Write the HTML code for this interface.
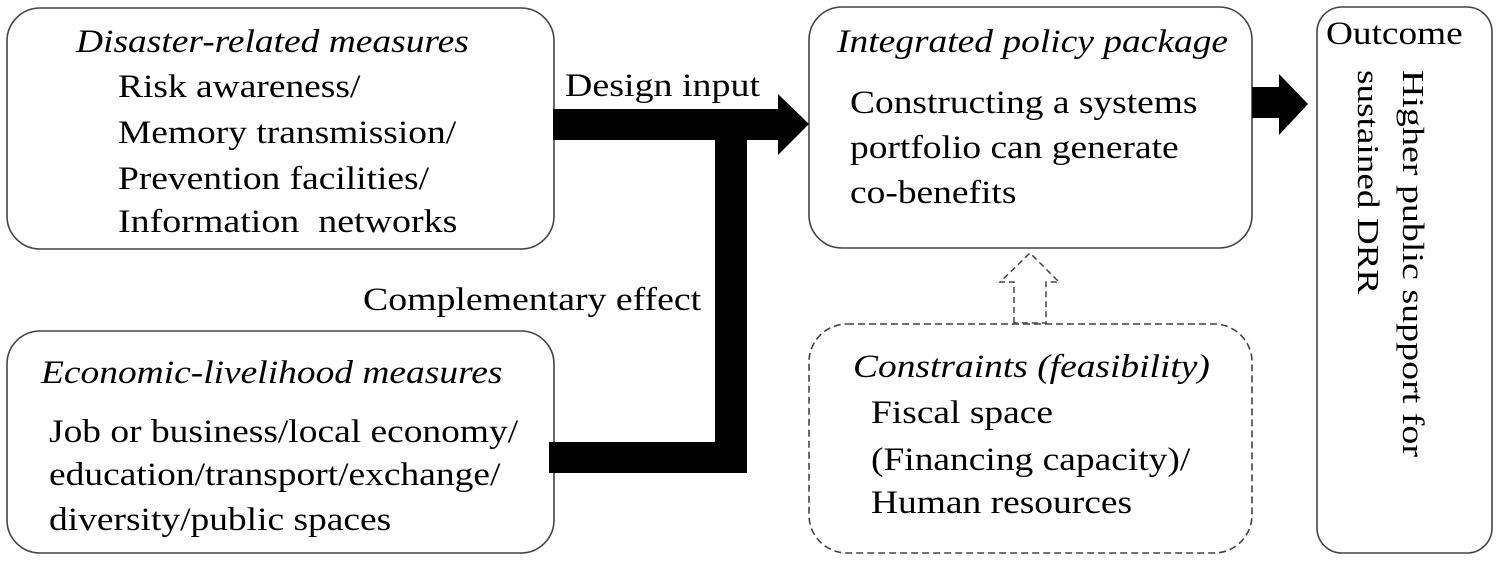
<!DOCTYPE html>
<html>
<head>
<meta charset="utf-8">
<style>
  html,body{margin:0;padding:0;background:#fff;}
  body{width:1499px;height:562px;position:relative;overflow:hidden;}
  svg{display:block;position:absolute;left:0;top:0;}
  .t{position:absolute;font-family:"Liberation Serif","Times New Roman",serif;font-size:33px;line-height:33px;white-space:pre;color:#000;transform-origin:0 0;transform:scaleX(1.135);margin:0;padding:0;}
  .i{font-style:italic;}
  .v{position:absolute;left:0;top:0;font-family:"Liberation Serif","Times New Roman",serif;font-size:31px;line-height:31px;white-space:pre;color:#000;transform-origin:0 0;}
</style>
</head>
<body>
<svg width="1499" height="562" viewBox="0 0 1499 562" xmlns="http://www.w3.org/2000/svg">
  <rect x="0" y="0" width="1499" height="562" fill="#fff"/>
  <rect x="7" y="8" width="547" height="241" rx="33" ry="33" fill="none" stroke="#444" stroke-width="1.6"/>
  <rect x="7" y="331" width="547" height="222" rx="33" ry="33" fill="none" stroke="#444" stroke-width="1.6"/>
  <rect x="809" y="7" width="443" height="241" rx="33" ry="33" fill="none" stroke="#444" stroke-width="1.6"/>
  <rect x="809" y="324" width="443" height="229" rx="38" ry="38" fill="none" stroke="#444" stroke-width="1.6" stroke-dasharray="7 4"/>
  <rect x="1317" y="7" width="175" height="546" rx="25" ry="25" fill="none" stroke="#444" stroke-width="1.6"/>
  <polygon points="553,109 778,109 778,94 809,124 778,155 778,140 747,140 747,473 549,473 549,442 715,442 715,140 553,140" fill="#000"/>
  <polygon points="1252,87 1279,87 1279,74 1308,104 1279,135 1279,118 1252,118" fill="#000"/>
  <polygon points="1014,323 1014,282 1000,282 1030,253 1059,282 1046,282 1046,323" fill="#fff" stroke="#444" stroke-width="1.5" stroke-dasharray="6 4"/>
</svg>

<!-- Box 1 -->
<div class="t i" style="left:76px;top:26.4px;">Disaster-related measures</div>
<div class="t" style="left:118px;top:71.4px;">Risk awareness/</div>
<div class="t" style="left:118px;top:117.4px;">Memory transmission/</div>
<div class="t" style="left:118px;top:163.4px;">Prevention facilities/</div>
<div class="t" style="left:118px;top:206.4px;transform:scaleX(1.15);">Information  networks</div>

<!-- Connector labels -->
<div class="t" style="left:565px;top:70.4px;transform:scaleX(1.15);">Design input</div>
<div class="t" style="left:363px;top:284.4px;transform:scaleX(1.145);">Complementary effect</div>

<!-- Box 2 -->
<div class="t i" style="left:41px;top:357.4px;">Economic-livelihood measures</div>
<div class="t" style="left:49px;top:416.4px;">Job or business/local economy/</div>
<div class="t" style="left:49px;top:459.4px;">education/transport/exchange/</div>
<div class="t" style="left:49px;top:504.4px;">diversity/public spaces</div>

<!-- Integrated -->
<div class="t i" style="left:837px;top:26.4px;">Integrated policy package</div>
<div class="t" style="left:850px;top:87.4px;">Constructing a systems</div>
<div class="t" style="left:850px;top:132.4px;">portfolio can generate</div>
<div class="t" style="left:850px;top:177.4px;">co-benefits</div>

<!-- Constraints -->
<div class="t i" style="left:853px;top:351.4px;">Constraints (feasibility)</div>
<div class="t" style="left:871px;top:397.4px;">Fiscal space</div>
<div class="t" style="left:871px;top:444.4px;">(Financing capacity)/</div>
<div class="t" style="left:871px;top:487.4px;">Human resources</div>

<!-- Outcome -->
<div class="t" style="left:1326px;top:18.4px;transform:scaleX(1.13);">Outcome</div>
<div class="v" style="transform:translate(1403px,70px) rotate(90deg) translate(0,-26px) scaleX(1.225);">Higher public support for</div>
<div class="v" style="transform:translate(1358px,70px) rotate(90deg) translate(0,-26px) scaleX(1.2);">sustained DRR</div>
</body>
</html>
